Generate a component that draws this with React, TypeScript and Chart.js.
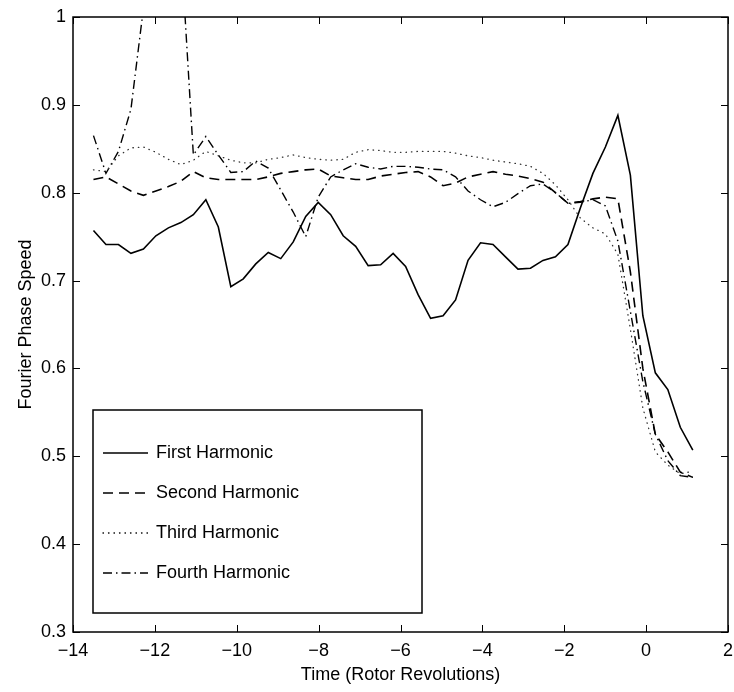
import React, { useEffect, useRef } from "react";
import { Chart, registerables } from "chart.js";

Chart.register(...registerables);

// Time (rotor revolutions) of each sample
const time = [
  -13.5, -13.195, -12.89, -12.585, -12.28, -11.975, -11.67, -11.365, -11.06, -10.755,
  -10.45, -10.145, -9.84, -9.535, -9.23, -8.925, -8.62, -8.315, -8.01, -7.705,
  -7.4, -7.095, -6.79, -6.485, -6.18, -5.875, -5.57, -5.265, -4.96, -4.655,
  -4.35, -4.045, -3.74, -3.435, -3.13, -2.825, -2.52, -2.215, -1.91, -1.605,
  -1.3, -0.995, -0.69, -0.385, -0.08, 0.225, 0.53, 0.835, 1.14,
];

const firstHarmonic = [
  0.757, 0.741, 0.741, 0.731, 0.736, 0.751, 0.76, 0.766, 0.775, 0.792,
  0.761, 0.693, 0.702, 0.719, 0.732, 0.725, 0.744, 0.773, 0.789, 0.775,
  0.751, 0.739, 0.717, 0.718, 0.731, 0.716, 0.684, 0.657, 0.66, 0.678,
  0.723, 0.743, 0.741, 0.727, 0.713, 0.714, 0.723, 0.727, 0.741, 0.783,
  0.822, 0.852, 0.888, 0.82, 0.66, 0.595, 0.576, 0.533, 0.507,
];

const secondHarmonic = [
  0.815, 0.818, 0.81, 0.802, 0.797, 0.802, 0.807, 0.813, 0.824, 0.817,
  0.815, 0.815, 0.815, 0.815, 0.818, 0.822, 0.824, 0.826, 0.827, 0.819,
  0.817, 0.815, 0.815, 0.819, 0.821, 0.823, 0.824, 0.818, 0.808, 0.811,
  0.818, 0.821, 0.824, 0.821, 0.819, 0.816, 0.812, 0.8, 0.788, 0.79,
  0.793, 0.795, 0.793, 0.71, 0.6, 0.525, 0.505, 0.482, 0.476,
];

const thirdHarmonic = [
  0.826, 0.824, 0.842, 0.851, 0.852, 0.846, 0.838, 0.832, 0.837, 0.847,
  0.842, 0.837, 0.834, 0.834, 0.838, 0.84, 0.843, 0.84, 0.838, 0.837,
  0.838, 0.846, 0.849, 0.848, 0.846, 0.846, 0.847, 0.847, 0.847, 0.845,
  0.842, 0.84, 0.837, 0.835, 0.833, 0.83, 0.822, 0.809, 0.792, 0.771,
  0.76, 0.753, 0.73, 0.645, 0.555, 0.505, 0.49, 0.48, 0.483,
];

const fourthHarmonic = [
  0.865, 0.822, 0.847, 0.895, 1.01, 1.15, 1.2, 1.08, 0.843, 0.864,
  0.843, 0.823, 0.824, 0.836, 0.828, 0.803, 0.778, 0.75, 0.795, 0.818,
  0.826, 0.833, 0.829, 0.827, 0.83, 0.83, 0.829, 0.827, 0.826, 0.818,
  0.802, 0.792, 0.784, 0.789, 0.799, 0.808, 0.81, 0.8, 0.788, 0.789,
  0.792, 0.785, 0.745, 0.665, 0.585, 0.525, 0.495, 0.478, 0.476,
];

const seriesLabels = ["First Harmonic", "Second Harmonic", "Third Harmonic", "Fourth Harmonic"];
const xRange = [-14, 2];
const xStep = 2;
const yRange = [0.3, 1];
const yStep = 0.1;

const FONT = "'Liberation Sans', Arial, Helvetica, sans-serif";
const FSIZE = 18;

export default function App() {
  const ref = useRef<HTMLCanvasElement | null>(null);

  useEffect(() => {
    if (!ref.current) return;
    const pts = (ys: number[]) => ys.map((y, i) => ({ x: time[i], y }));

    const framePlugin = {
      id: "matlabFrame",
      afterDatasetsDraw(chart: any) {
        const { ctx, chartArea: ca, scales } = chart;
        const tl = 7;
        ctx.save();
        ctx.strokeStyle = "#000";
        ctx.lineWidth = 1;
        ctx.beginPath();
        for (const t of scales.x.ticks) {
          const px = Math.round(scales.x.getPixelForValue(t.value)) + 0.5;
          ctx.moveTo(px, ca.bottom);
          ctx.lineTo(px, ca.bottom - tl);
          ctx.moveTo(px, ca.top);
          ctx.lineTo(px, ca.top + tl);
        }
        for (const t of scales.y.ticks) {
          const py = Math.round(scales.y.getPixelForValue(t.value)) + 0.5;
          ctx.moveTo(ca.left, py);
          ctx.lineTo(ca.left + tl, py);
          ctx.moveTo(ca.right, py);
          ctx.lineTo(ca.right - tl, py);
        }
        ctx.stroke();
        ctx.lineWidth = 1.5;
        ctx.strokeRect(ca.left, ca.top, ca.right - ca.left, ca.bottom - ca.top);

        // legend box
        const lx = ca.left + 20;
        const ly = ca.top + 393;
        const lw = 329;
        const lh = 203;
        ctx.fillStyle = "#fff";
        ctx.fillRect(lx, ly, lw, lh);
        ctx.lineWidth = 1.5;
        ctx.strokeRect(lx, ly, lw, lh);
        ctx.font = `${FSIZE}px ${FONT}`;
        ctx.textBaseline = "middle";
        ctx.textAlign = "left";
        chart.data.datasets.forEach((ds: any, i: number) => {
          const y = ly + 43 + i * 40;
          ctx.save();
          ctx.strokeStyle = "#000";
          ctx.lineWidth = ds.borderWidth;
          ctx.lineCap = ds.borderCapStyle || "butt";
          ctx.setLineDash(ds.borderDash || []);
          ctx.beginPath();
          ctx.moveTo(lx + 10, y);
          ctx.lineTo(lx + 55, y);
          ctx.stroke();
          ctx.restore();
          ctx.fillStyle = "#000";
          ctx.fillText(ds.label, lx + 63, y);
        });
        ctx.restore();
      },
    };

    const chart = new Chart(ref.current, {
      type: "line",
      data: {
        datasets: [
          { label: seriesLabels[0], data: pts(firstHarmonic), borderColor: "#000", borderWidth: 1.6, borderDash: [] },
          { label: seriesLabels[1], data: pts(secondHarmonic), borderColor: "#000", borderWidth: 1.6, borderDash: [10, 6] },
          { label: seriesLabels[2], data: pts(thirdHarmonic), borderColor: "#333", borderWidth: 1.3, borderDash: [0.5, 5], borderCapStyle: "round" },
          { label: seriesLabels[3], data: pts(fourthHarmonic), borderColor: "#000", borderWidth: 1.4, borderDash: [9, 4, 1.5, 4] },
        ] as any,
      },
      options: {
        responsive: false,
        animation: false,
        devicePixelRatio: 1,
        parsing: false,
        elements: { point: { radius: 0 }, line: { tension: 0 } },
        layout: { padding: { left: 0, right: 6, top: 17, bottom: 0 } },
        plugins: { legend: { display: false }, tooltip: { enabled: false } },
        scales: {
          x: {
            type: "linear",
            min: xRange[0],
            max: xRange[1],
            grid: { display: false, drawTicks: false },
            border: { display: false },
            afterFit: (s: any) => { s.height = 60; s.paddingRight = 0; s.paddingLeft = 0; },
            ticks: {
              stepSize: xStep,
              padding: 8,
              color: "#000",
              font: { family: FONT, size: FSIZE },
              maxRotation: 0,
              callback: (v: any) => (v < 0 ? "\u2212" + Math.abs(v) : String(v)),
            },
            title: {
              display: true,
              text: "Time (Rotor Revolutions)",
              color: "#000",
              font: { family: FONT, size: FSIZE },
              padding: { top: 0, bottom: 6 },
            },
          },
          y: {
            type: "linear",
            min: yRange[0],
            max: yRange[1],
            grid: { display: false, drawTicks: false },
            border: { display: false },
            afterFit: (s: any) => { s.width = 73; s.paddingTop = 0; s.paddingBottom = 0; },
            ticks: {
              stepSize: yStep,
              padding: 7,
              color: "#000",
              font: { family: FONT, size: FSIZE },
              callback: (v: any) => String(Math.round(Number(v) * 10) / 10),
            },
            title: {
              display: true,
              text: "Fourier Phase Speed",
              color: "#000",
              font: { family: FONT, size: FSIZE },
              padding: { top: 15, bottom: 0 },
            },
          },
        },
      },
      plugins: [framePlugin],
    } as any);

    return () => chart.destroy();
  }, []);

  return (
    <div style={{ position: "absolute", left: 0, top: 0, width: 734, height: 692, background: "#fff" }}>
      <canvas ref={ref} width={734} height={692} style={{ display: "block" }} />
    </div>
  );
}
